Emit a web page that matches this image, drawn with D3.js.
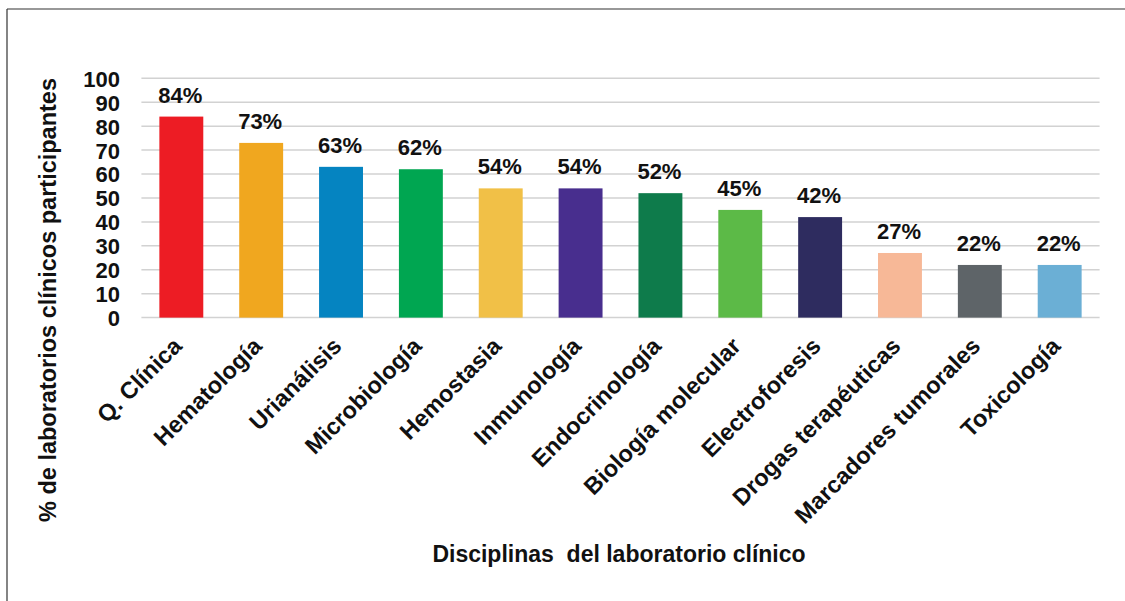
<!DOCTYPE html>
<html>
<head>
<meta charset="utf-8">
<script src="https://cdn.jsdelivr.net/npm/d3@7/dist/d3.min.js"></script>
<style>
  html, body { margin: 0; padding: 0; background: #fff; }
  svg { display: block; font-family: "Liberation Sans", Arial, sans-serif; }
</style>
</head>
<body>
<svg id="chart" width="1125" height="601"></svg>
<script>
const categories = ["Q. Clínica", "Hematología", "Urianálisis", "Microbiología", "Hemostasia", "Inmunología",
  "Endocrinología", "Biología molecular", "Electroforesis", "Drogas terapéuticas", "Marcadores tumorales", "Toxicología"];
const values = [84, 73, 63, 62, 54, 54, 52, 45, 42, 27, 22, 22];
const colors = ["#ED1C24", "#F0A71F", "#0584C1", "#00A651", "#F1C047", "#482E8E",
  "#0E7B4B", "#5CBA47", "#2E2C5F", "#F7B897", "#5E6468", "#6BAFD5"];
const yTicks = [0, 10, 20, 30, 40, 50, 60, 70, 80, 90, 100];
const yTitle = "% de laboratorios clínicos participantes";
const xTitle = "Disciplinas\u00A0 del laboratorio clínico";

const svg = d3.select("#chart");

// frame (top and left edges)
svg.append("line").attr("x1", 7).attr("y1", 9).attr("x2", 1125).attr("y2", 9)
  .attr("stroke", "#333").attr("stroke-width", 1.2);
svg.append("line").attr("x1", 7).attr("y1", 9).attr("x2", 7).attr("y2", 601)
  .attr("stroke", "#333").attr("stroke-width", 1.2);

const x = d3.scaleBand().domain(categories).range([141.4, 1099.6]).paddingInner(0.45).paddingOuter(0.225);
const y = d3.scaleLinear().domain([0, 100]).range([317.6, 78.3]);

// gridlines
svg.append("g").selectAll("line").data(yTicks).join("line")
  .attr("x1", 141.4).attr("x2", 1099.6)
  .attr("y1", d => y(d)).attr("y2", d => y(d))
  .attr("stroke", "#d2d2d2").attr("stroke-width", 1.5);

// y axis labels
const yAxis = d3.axisLeft(y).tickValues(yTicks).tickSize(0).tickPadding(0);
const gy = svg.append("g").attr("transform", "translate(120,0)").call(yAxis);
gy.select(".domain").remove();
gy.selectAll("text").attr("font-size", 22).attr("font-weight", "bold").attr("fill", "#111")
  .attr("font-family", "'Liberation Sans', Arial, sans-serif").attr("dy", "0.36em");

// bars
svg.append("g").selectAll("rect").data(values).join("rect")
  .attr("x", (d, i) => x(categories[i]))
  .attr("width", x.bandwidth())
  .attr("y", d => y(d))
  .attr("height", d => y(0) - y(d))
  .attr("fill", (d, i) => colors[i]);

// value labels
svg.append("g").selectAll("text").data(values).join("text")
  .attr("x", (d, i) => x(categories[i]) + x.bandwidth() / 2 - 1)
  .attr("y", d => y(d) - 14)
  .attr("text-anchor", "middle")
  .attr("font-size", 22).attr("font-weight", "bold").attr("fill", "#111")
  .text(d => d + "%");

// x category labels
const xAxis = d3.axisBottom(x).tickSize(0).tickPadding(0);
const gx = svg.append("g").attr("transform", "translate(0," + y(0) + ")").call(xAxis);
gx.select(".domain").remove();
gx.selectAll("text")
  .attr("font-size", 23.5).attr("font-weight", "bold").attr("fill", "#111")
  .attr("font-family", "'Liberation Sans', Arial, sans-serif")
  .attr("text-anchor", "end")
  .attr("dy", 0).attr("y", 0)
  .attr("transform", "translate(2,30) rotate(-45)");

// y title
svg.append("text")
  .attr("transform", "translate(56,300) rotate(-90)")
  .attr("text-anchor", "middle")
  .attr("font-size", 23.5).attr("font-weight", "bold").attr("fill", "#111")
  .text(yTitle);

// x title
svg.append("text")
  .attr("x", 619).attr("y", 562)
  .attr("text-anchor", "middle")
  .attr("font-size", 23).attr("font-weight", "bold").attr("fill", "#111")
  .text(xTitle);
</script>
</body>
</html>
